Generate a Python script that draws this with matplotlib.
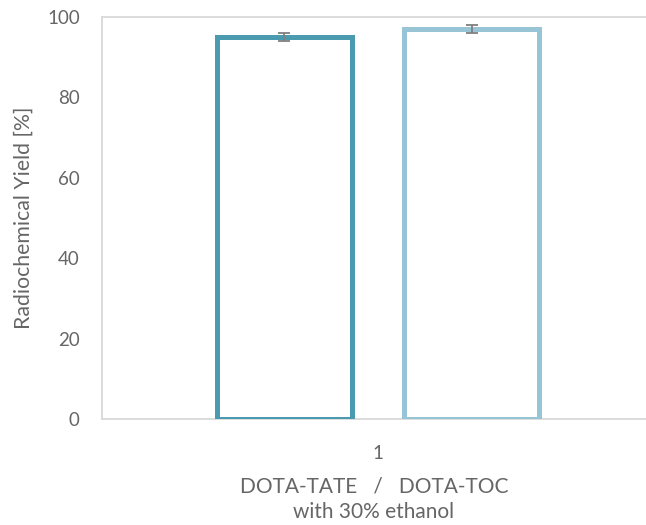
import matplotlib
matplotlib.use("Agg")
import matplotlib.pyplot as plt

# Radiochemical yield for the two peptides (labelled with 30% ethanol)
series = ["DOTA-TATE", "DOTA-TOC"]
yields = [95.0, 97.0]
errors = [1.0, 1.0]
category = ["1"]
edge_colors = ["#4A9AB0", "#97C5D6"]

yticks = [0, 20, 40, 60, 80, 100]

plt.rcParams["font.family"] = ["Lato", "DejaVu Sans"]
text_color = "#666666"
spine_color = "#D9D9D9"

fig = plt.figure(figsize=(6.46, 5.25), dpi=100)
ax = fig.add_axes([0.158, 0.2019, 0.842, 0.7657])

offsets = [-0.249, 0.249]
width = 0.36
for off, val, err, col in zip(offsets, yields, errors, edge_colors):
    ax.bar(off, val, width=width, facecolor="white", edgecolor=col,
           linewidth=3.6, zorder=3)
    ax.errorbar(off, val, yerr=err, fmt="none", ecolor="#7F7F7F",
                elinewidth=1.3, capsize=4.3, capthick=1.3, zorder=4)

ax.set_xlim(-0.734, 0.713)
ax.set_ylim(0, 100)
ax.set_yticks(yticks)
ax.set_xticks([0])
ax.set_xticklabels(category)

for side in ["left", "bottom", "top"]:
    ax.spines[side].set_color(spine_color)
    ax.spines[side].set_linewidth(1.3)
ax.spines["right"].set_visible(False)

ax.tick_params(axis="both", length=0, labelsize=13.5, colors=text_color)
ax.tick_params(axis="x", pad=19)
ax.tick_params(axis="y", pad=16)

ax.set_ylabel("Radiochemical Yield [%]", fontsize=15.3, color=text_color, labelpad=10)
ax.set_xlabel("DOTA-TATE   /   DOTA-TOC\nwith 30% ethanol", fontsize=15,
              color=text_color, labelpad=10, linespacing=1.35)

fig.savefig("out.png", dpi=100)
